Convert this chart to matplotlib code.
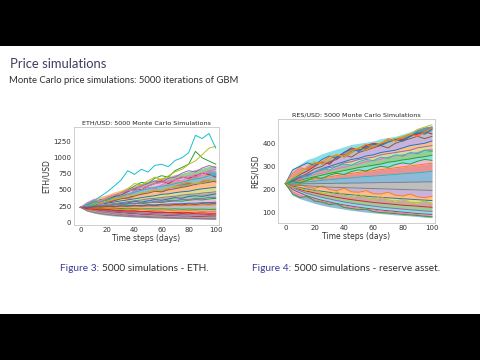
import numpy as np
import matplotlib
matplotlib.use("Agg")
import matplotlib.pyplot as plt
import seaborn as sns
from matplotlib.patches import Rectangle

# Slide text
slide_title = "Price simulations"
slide_subtitle = "Monte Carlo price simulations: 5000 iterations of GBM"
captions = [("Figure 3:", "5000 simulations - ETH."),
            ("Figure 4:", "5000 simulations - reserve asset.")]

# Time axis: values are read every 5 days
days = list(range(0, 101, 5))

# ETH/USD paths (a representative subset of the 5000)
eth_paths = [
    [230, 240, 262, 280, 296, 312, 330, 346, 362, 380, 396, 410, 432, 440, 458, 472, 480, 502, 518, 530, 542],
    [230, 242, 268, 300, 322, 342, 380, 362, 404, 440, 472, 498, 480, 522, 560, 598, 622, 580, 642, 660, 622],
    [230, 262, 300, 352, 330, 402, 452, 500, 562, 618, 602, 682, 722, 700, 802, 850, 902, 1100, 1000, 950, 900],
    [230, 252, 292, 312, 352, 392, 420, 472, 520, 500, 562, 600, 642, 600, 662, 700, 682, 722, 762, 742, 700],
    [230, 272, 300, 342, 382, 420, 452, 480, 522, 560, 602, 640, 620, 682, 700, 762, 800, 780, 842, 880, 850],
    [230, 252, 262, 292, 310, 332, 362, 380, 410, 432, 452, 480, 470, 502, 520, 542, 560, 590, 602, 620, 640],
    [230, 262, 240, 282, 322, 360, 402, 430, 462, 500, 540, 520, 580, 622, 660, 640, 702, 740, 720, 800, 780],
    [230, 236, 252, 258, 278, 290, 302, 318, 332, 344, 362, 370, 382, 394, 402, 420, 432, 438, 452, 460, 472],
    [230, 252, 292, 330, 382, 420, 462, 520, 600, 580, 642, 700, 660, 720, 782, 820, 900, 952, 1050, 1150, 1180],
    [230, 282, 330, 402, 472, 560, 652, 800, 742, 822, 780, 882, 900, 862, 960, 1000, 1080, 1350, 1300, 1380, 1150],
    [230, 228, 234, 236, 242, 244, 252, 254, 260, 260, 270, 268, 276, 280, 284, 286, 294, 294, 302, 304, 310],
    [230, 224, 228, 226, 232, 230, 238, 236, 242, 240, 248, 246, 252, 250, 258, 256, 262, 260, 268, 266, 270],
    [230, 220, 220, 212, 214, 208, 212, 206, 210, 204, 208, 204, 206, 202, 206, 200, 204, 200, 202, 198, 200],
    [230, 216, 210, 198, 194, 184, 182, 172, 172, 164, 164, 156, 156, 150, 152, 146, 148, 142, 144, 138, 138],
    [230, 212, 202, 186, 180, 168, 164, 152, 150, 140, 138, 130, 130, 122, 122, 115, 116, 110, 110, 104, 102],
    [230, 208, 194, 176, 167, 153, 148, 136, 132, 121, 119, 110, 108, 101, 100, 93, 93, 87, 87, 82, 80],
    [230, 204, 187, 166, 154, 138, 132, 119, 115, 104, 102, 93, 92, 84, 83, 76, 76, 70, 70, 64, 63],
    [230, 198, 180, 156, 144, 126, 119, 105, 101, 90, 88, 79, 78, 70, 70, 63, 62, 57, 56, 51, 50],
    [230, 246, 268, 302, 328, 362, 378, 412, 418, 452, 468, 492, 498, 532, 548, 562, 578, 602, 608, 642, 658],
    [230, 252, 278, 322, 348, 382, 408, 442, 468, 492, 518, 542, 558, 572, 598, 622, 648, 672, 688, 722, 738],
    [230, 220, 235, 260, 250, 270, 290, 300, 320, 310, 330, 350, 340, 360, 380, 370, 400, 410, 400, 420, 440],
    [230, 215, 205, 200, 210, 205, 195, 190, 200, 195, 185, 180, 190, 185, 175, 170, 180, 175, 165, 160, 170],
    [230, 240, 250, 245, 260, 270, 265, 280, 290, 285, 300, 310, 305, 320, 330, 325, 340, 350, 345, 360, 370],
    [230, 210, 200, 190, 195, 185, 175, 170, 175, 165, 160, 150, 155, 145, 140, 135, 140, 130, 125, 120, 125],
    [230, 244, 236, 258, 252, 274, 268, 290, 284, 306, 300, 322, 316, 338, 332, 354, 348, 370, 364, 386, 380],
    [230, 226, 240, 232, 246, 238, 252, 244, 258, 250, 264, 256, 270, 262, 276, 268, 282, 274, 288, 280, 294],
    [230, 300, 350, 330, 390, 420, 450, 500, 480, 540, 560, 600, 620, 640, 660, 690, 720, 700, 760, 800, 820],
    [230, 175, 150, 130, 118, 105, 98, 90, 85, 80, 74, 70, 67, 63, 60, 58, 55, 53, 51, 48, 47],
]
# outer hull of the dense mass (ETH)
eth_upper = [230, 320, 370, 400, 430, 470, 500, 540, 560, 600, 640, 660, 690, 720, 740, 760, 790, 820, 840, 870, 880]
eth_lower = [230, 170, 140, 120, 105, 95, 88, 82, 77, 72, 68, 65, 62, 59, 56, 54, 52, 50, 48, 46, 45]

# RES/USD paths
res_paths = [
    [225, 235, 250, 260, 275, 290, 300, 310, 320, 330, 335, 345, 350, 360, 365, 370, 380, 390, 395, 400, 410],
    [225, 228, 235, 240, 245, 250, 255, 260, 265, 270, 274, 278, 282, 286, 290, 294, 298, 302, 306, 310, 314],
    [225, 232, 240, 248, 255, 262, 270, 275, 282, 288, 295, 300, 305, 310, 318, 322, 328, 332, 338, 342, 348],
    [225, 245, 265, 280, 300, 320, 310, 340, 360, 380, 370, 390, 400, 395, 410, 420, 415, 430, 440, 450, 440],
    [225, 240, 250, 265, 275, 285, 295, 300, 315, 320, 330, 335, 340, 350, 355, 360, 365, 370, 380, 385, 390],
    [225, 240, 255, 270, 290, 300, 320, 330, 350, 340, 360, 370, 380, 390, 380, 400, 410, 420, 430, 420, 430],
    [225, 230, 245, 255, 265, 270, 280, 290, 295, 305, 310, 320, 325, 330, 340, 345, 350, 355, 360, 370, 375],
    [225, 224, 224, 225, 225, 226, 226, 227, 227, 228, 228, 229, 229, 230, 230, 231, 231, 232, 232, 233, 233],
    [225, 250, 270, 300, 320, 310, 330, 350, 340, 360, 380, 370, 390, 400, 410, 420, 430, 440, 460, 470, 480],
    [225, 226, 230, 233, 236, 240, 242, 245, 248, 250, 253, 256, 258, 260, 263, 265, 268, 270, 272, 275, 278],
    [225, 215, 208, 202, 197, 192, 188, 184, 180, 177, 174, 171, 168, 166, 164, 162, 160, 158, 156, 154, 152],
    [225, 215, 222, 210, 205, 215, 200, 195, 205, 190, 188, 195, 182, 180, 188, 175, 172, 180, 168, 165, 170],
    [225, 235, 228, 240, 252, 248, 262, 270, 265, 278, 285, 280, 292, 300, 296, 308, 315, 310, 322, 330, 326],
    [225, 212, 200, 192, 185, 178, 172, 166, 161, 156, 152, 148, 144, 141, 138, 135, 132, 130, 128, 125, 123],
    [225, 208, 194, 183, 174, 166, 159, 152, 146, 141, 136, 132, 128, 124, 121, 118, 115, 112, 110, 107, 105],
    [225, 200, 185, 172, 162, 153, 146, 139, 133, 128, 123, 119, 115, 111, 108, 105, 102, 99, 96, 94, 92],
    [225, 190, 175, 165, 156, 148, 141, 135, 129, 124, 119, 115, 111, 107, 104, 100, 97, 94, 91, 88, 84],
    [225, 220, 218, 216, 214, 212, 210, 209, 208, 207, 206, 205, 204, 203, 202, 201, 200, 199, 198, 197, 196],
    [225, 210, 205, 195, 200, 185, 180, 190, 175, 170, 178, 165, 160, 168, 155, 150, 158, 145, 142, 150, 140],
    [225, 245, 260, 255, 275, 290, 285, 300, 310, 305, 320, 330, 325, 340, 335, 350, 345, 360, 355, 370, 365],
    [225, 285, 300, 315, 305, 330, 345, 335, 360, 375, 365, 385, 395, 390, 405, 415, 410, 430, 445, 440, 460],
    [225, 270, 295, 285, 310, 320, 340, 350, 345, 370, 380, 395, 385, 400, 420, 410, 425, 440, 430, 450, 465],
    [225, 180, 165, 170, 150, 145, 135, 138, 122, 118, 112, 115, 104, 100, 98, 96, 92, 90, 88, 84, 82],
]
res_upper = [225, 290, 310, 330, 340, 355, 365, 375, 385, 395, 400, 405, 410, 420, 425, 430, 440, 450, 460, 470, 475]
res_lower = [225, 175, 160, 150, 140, 132, 125, 120, 115, 110, 106, 102, 99, 96, 93, 90, 88, 86, 83, 80, 78]

sns.set_style("white")

W, H = 480, 360
fig = plt.figure(figsize=(W / 100, H / 100), dpi=100)
fig.patch.set_facecolor("black")

# white slide area between the black bars
fig.add_artist(Rectangle((0, 1 - 314 / H), 1, (314 - 46) / H, transform=fig.transFigure,
                         facecolor="white", edgecolor="none", zorder=0))

slide_font = ["Lato", "DejaVu Sans"]
fig.text(10 / W, 1 - 68 / H, slide_title, fontsize=9.4, color="#3c3f5e",
         family=slide_font, va="baseline")
fig.text(9 / W, 1 - 83 / H, slide_subtitle, fontsize=6.8, color="#2e2e2e",
         family=slide_font, va="baseline")

tab = plt.rcParams["axes.prop_cycle"].by_key()["color"]


def sim_panel(rect, paths, upper, lower, title, ylabel, ylim, yticks):
    ax = fig.add_axes(rect)
    # dense mass: stripes between neighbouring paths, clipped to the hull
    layers = np.clip(np.array(paths, dtype=float), lower, upper)
    layers = np.vstack([layers, lower, upper])
    layers = layers[np.argsort(layers.mean(axis=1))]
    for i in range(len(layers) - 1):
        ax.fill_between(days, layers[i], layers[i + 1], color=tab[(i * 3) % 10],
                        alpha=0.5, lw=0)
    for p in paths:
        ax.plot(days, p, lw=0.7)
    ax.set_xlim(-5, 102)
    ax.set_ylim(*ylim)
    ax.set_xticks([0, 20, 40, 60, 80, 100])
    ax.set_yticks(yticks)
    ax.tick_params(labelsize=5, colors="#333333", pad=1.5, length=0)
    ax.set_title(title, fontsize=4.6, color="#262626", pad=2)
    ax.set_xlabel("Time steps (days)", fontsize=5.5, color="#333333", labelpad=0.5)
    ax.set_ylabel(ylabel, fontsize=5.5, color="#333333", labelpad=2)
    for s in ax.spines.values():
        s.set_color("#c8c8c8")
        s.set_linewidth(0.6)
    return ax


sim_panel([73.5 / W, 1 - 225 / H, 145 / W, 98 / H], eth_paths, eth_upper, eth_lower,
          "ETH/USD: 5000 Monte Carlo Simulations", "ETH/USD", (-45, 1480),
          [0, 250, 500, 750, 1000, 1250])
sim_panel([278 / W, 1 - 223 / H, 157 / W, 104 / H], res_paths, res_upper, res_lower,
          "RES/USD: 5000 Monte Carlo Simulations", "RES/USD", (55, 505),
          [100, 200, 300, 400])

# captions under each figure: blue label, then the text right after it
renderer = fig.canvas.get_renderer()
for (lab, txt), x0 in zip(captions, [60, 252]):
    t = fig.text(x0 / W, 1 - 271 / H, lab, fontsize=7.3, color="#3b3b96",
                 family=slide_font, va="baseline")
    x1 = t.get_window_extent(renderer).x1 + 3
    fig.text(x1 / W, 1 - 271 / H, txt, fontsize=7.3, color="#2e2e2e",
             family=slide_font, va="baseline")

fig.savefig("out.png", dpi=100, facecolor=fig.get_facecolor())
